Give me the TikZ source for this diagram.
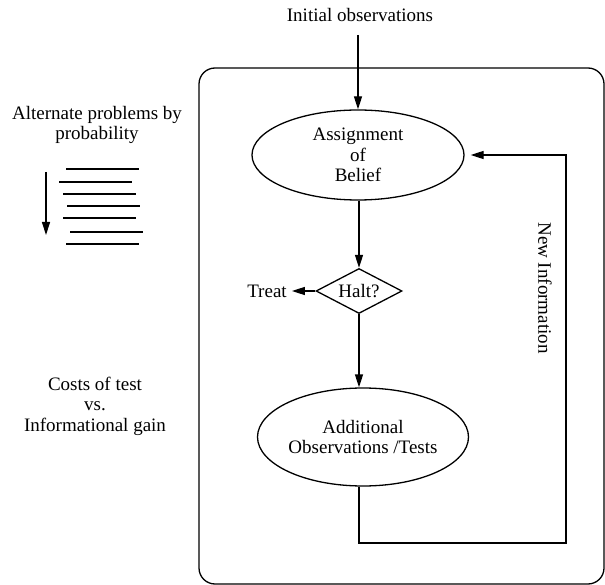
\documentclass[tikz,border=0pt]{standalone}
\usepackage{fontspec}
\setmainfont{Liberation Serif}
\usetikzlibrary{shapes.geometric,arrows.meta}
\begin{document}
\begin{tikzpicture}[x=1pt,y=-1pt,
  every node/.style={font=\fontsize{19}{20.5}\selectfont, inner sep=0pt, align=center},
  line/.style={line width=1.3pt},
  arr/.style={line width=1.3pt,-{Triangle[length=13pt,width=8pt]}},
  ell/.style={ellipse, draw, line width=1.3pt},
  dia/.style={diamond, draw, line width=1.3pt, aspect=1.9}]
\useasboundingbox (0,0) rectangle (605,585);
% frame
\draw[line, rounded corners=16pt] (199,68) rectangle (604,584);
% nodes
\node (init) at (360,15) {Initial observations};
\node[ell, minimum width=212pt, minimum height=90pt] (e1) at (358,155) {Assignment\\of\\Belief};
\node[dia, minimum width=86pt, minimum height=45pt, label={center:Halt?}] (d) at (359,291) {};
\node (treat) at (267,291) {Treat};
\node[ell, minimum width=211pt, minimum height=98pt] (e2) at (363,437) {Additional\\Observations /Tests};
\node[rotate=-90] (newinfo) at (545,288) {New Information};
\node (alt) at (97,125) {Alternate problems by\\probability};
\node (costs) at (95,406) {Costs of test\\vs.\\Informational gain};
\coordinate (istart) at (358,35);
\coordinate (fb) at (566,543);
% connectors
\draw[arr] (istart) -- (e1.north);
\draw[arr] (e1.south -| d.north) -- (d.north);
\draw[arr] (d.west) -- ([xshift=5pt]treat.east);
\draw[arr] (d.south) -- (d.south |- e2.north);
\draw[arr] (d.south |- e2.south) -- (d.south |- fb) -- (fb) -- (fb |- e1.east) -- ([xshift=6pt]e1.east);
% probability list
\draw[line] (66,169) -- (139,169);
\draw[line] (59,182) -- (132,182);
\draw[line] (63,194) -- (136,194);
\draw[line] (67,206) -- (140,206);
\draw[line] (63,218) -- (136,218);
\draw[line] (70,232) -- (143,232);
\draw[line] (66,244) -- (139,244);
\draw[arr] (46,172) -- (46,235);
\end{tikzpicture}
\end{document}
